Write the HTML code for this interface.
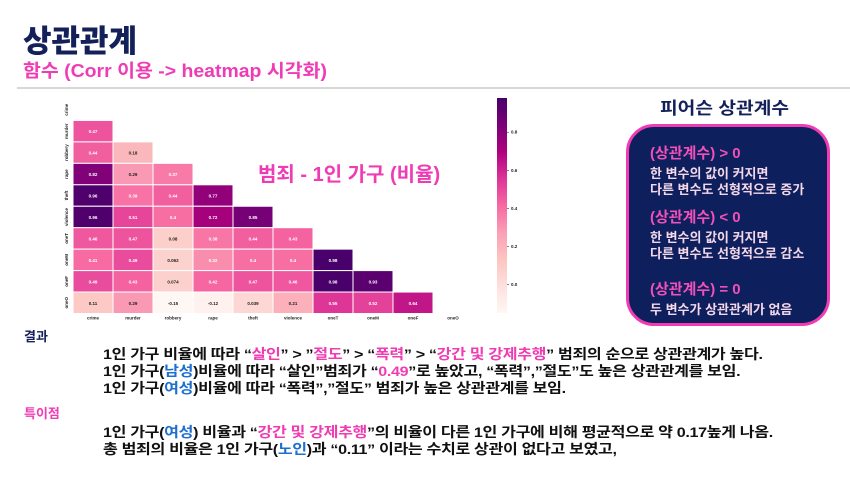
<!DOCTYPE html>
<html><head><meta charset="utf-8">
<style>
body{margin:0;width:850px;height:478px;background:#fff;overflow:hidden;position:relative;font-family:"Liberation Sans","Noto Sans CJK KR",sans-serif;}
.a{position:absolute;white-space:nowrap;}
.pk{color:#f03cb4}.bl{color:#1e6fd0}
.body{font-size:14px;font-weight:bold;color:#111;letter-spacing:-0.3px;transform:scaleX(1.15);transform-origin:0 0}
.box div{color:#f4d7e8;font-size:13px;font-weight:bold;line-height:16px}
.box .h{color:#f050b8;font-size:15px;margin-bottom:4px}
</style></head><body>
<div class="a" style="left:23px;top:16px;font-size:31px;font-weight:900;color:#14205a">상관관계</div>
<div class="a pk" style="left:23px;top:57px;font-size:18px;font-weight:bold;transform:scaleX(1.08);transform-origin:0 0">함수 (Corr 이용 -&gt; heatmap 시각화)</div>
<div class="a" style="left:17px;top:87px;width:833px;height:2px;background:#d8d8d8"></div>

<svg class="a" style="left:0;top:90px" width="620" height="240" id="hm"></svg>
<div class="a pk" style="left:258px;top:158px;font-size:20px;font-weight:bold">범죄 - 1인 가구 (비율)</div>

<div class="a" style="left:660px;top:94px;font-size:17px;font-weight:bold;color:#14205a;transform:scaleX(1.13);transform-origin:0 0">피어슨 상관계수</div>
<div class="a box" style="left:626px;top:124px;width:198px;height:196px;background:#0d1f5c;border:3px solid #f03cb4;border-radius:28px;padding:0">
 <div style="position:absolute;left:21px;top:19px">
  <div class="h">(상관계수) &gt; 0</div>
  <div>한 변수의 값이 커지면<br>다른 변수도 선형적으로 증가</div>
  <div class="h" style="margin-top:12px">(상관계수) &lt; 0</div>
  <div>한 변수의 값이 커지면<br>다른 변수도 선형적으로 감소</div>
  <div class="h" style="margin-top:20px">(상관계수) = 0</div>
  <div>두 변수가 상관관계가 없음</div>
 </div>
</div>

<div class="a" style="left:24px;top:326px;font-size:13px;font-weight:bold;color:#14205a">결과</div>
<div class="a body" style="left:103px;top:344px">1인 가구 비율에 따라 “<span class="pk">살인</span>” &gt; ”<span class="pk">절도</span>” &gt; “<span class="pk">폭력</span>” &gt; “<span class="pk">강간 및 강제추행</span>” 범죄의 순으로 상관관계가 높다.</div>
<div class="a body" style="left:103px;top:361px">1인 가구(<span class="bl">남성</span>)비율에 따라 “살인”범죄가 “<span class="pk">0.49</span>”로 높았고, “폭력”,”절도”도 높은 상관관계를 보임.</div>
<div class="a body" style="left:103px;top:378px">1인 가구(<span class="bl">여성</span>)비율에 따라 “폭력”,”절도” 범죄가 높은 상관관계를 보임.</div>
<div class="a pk" style="left:24px;top:403px;font-size:13px;font-weight:bold">특이점</div>
<div class="a body" style="left:103px;top:422px">1인 가구(<span class="bl">여성</span>) 비율과 “<span class="pk">강간 및 강제추행</span>”의 비율이 다른 1인 가구에 비해 평균적으로 약 0.17높게 나옴.</div>
<div class="a body" style="left:103px;top:439px">총 범죄의 비율은 1인 가구(<span class="bl">노인</span>)과 “0.11” 이라는 수치로 상관이 없다고 보였고,</div>

<script>
const labels=["crime","murder","robbery","rape","theft","violence","oneT","oneM","oneF","oneO"];
const corrRows=[
[],
[0.47],
[0.44,0.18],
[0.82,0.29,0.37],
[0.96,0.39,0.44,0.77],
[0.96,0.51,0.4,0.72,0.85],
[0.46,0.47,0.08,0.38,0.44,0.43],
[0.41,0.49,0.062,0.32,0.4,0.4,0.98],
[0.49,0.43,0.074,0.42,0.47,0.46,0.98,0.93],
[0.11,0.29,-0.15,-0.12,0.039,0.21,0.55,0.52,0.64]
];
const cbTicks=[0.0,0.2,0.4,0.6,0.8];
const vmin=-0.15,vmax=0.98;
const stops=["#fff7f3","#fde0dd","#fcc5c0","#fa9fb5","#f768a1","#dd3497","#ae017e","#7a0177","#49006a"];
function hx(c){return [1,3,5].map(i=>parseInt(c.substr(i,2),16));}
function cmap(v){let t=Math.max(0,Math.min(1,(v-vmin)/(vmax-vmin)))*(stops.length-1);let i=Math.min(Math.floor(t),stops.length-2),f=t-i;const a=hx(stops[i]),b=hx(stops[i+1]);return "rgb("+a.map((x,k)=>Math.round(x+(b[k]-x)*f)).join(",")+")";}
const NS="http://www.w3.org/2000/svg",svg=document.getElementById("hm");
const x0=73,y0=9,cw=40,ch=21.45;
const xs=j=>x0+j*cw, ys=i=>y0+i*ch;
function mk(t,at){const e=document.createElementNS(NS,t);for(const k in at)e.setAttribute(k,at[k]);svg.appendChild(e);return e;}
corrRows.forEach((row,i)=>row.forEach((v,j)=>{
 const r=mk("rect",{x:xs(j),y:ys(i),width:cw,height:ch,fill:cmap(v),stroke:"#fff","stroke-width":1});
 
 
 const t=mk("text",{x:xs(j)+cw/2,y:ys(i)+ch/2+2,"font-size":4.5,"font-weight":"bold","text-anchor":"middle",fill:(v-vmin)/(vmax-vmin)>0.41?"#fff":"#222"});
 t.textContent=v;
 
 
}));
labels.forEach((l,i)=>{
 const t=mk("text",{x:xs(i)+cw/2,y:y0+10*ch+6,"font-size":4.5,"font-weight":"bold","text-anchor":"middle",fill:"#222"});
 t.textContent=l;
 
 
 const yy=ys(i)+ch/2;
 const u=mk("text",{x:68,y:yy,"font-size":4.5,"font-weight":"bold","text-anchor":"middle",fill:"#222",transform:"rotate(-90 68 "+yy+")"});
 u.textContent=l;
 
 
});
const cbX=497,cbW=10,cbTop=8,cbBot=223;
const cy=v=>cbBot-(v-vmin)/(vmax-vmin)*(cbBot-cbTop);
const defs=mk("defs",{});
const g=document.createElementNS(NS,"linearGradient");g.setAttribute("id","cbg");g.setAttribute("x1",0);g.setAttribute("y1",1);g.setAttribute("x2",0);g.setAttribute("y2",0);defs.appendChild(g);
stops.forEach((c,k)=>{const s=document.createElementNS(NS,"stop");s.setAttribute("offset",k/(stops.length-1));s.setAttribute("stop-color",c);g.appendChild(s);});
const cb=mk("rect",{x:cbX,y:cbTop,width:cbW,height:cbBot-cbTop,fill:"url(#cbg)"});


cbTicks.forEach(v=>{
 mk("line",{x1:cbX+cbW,x2:cbX+cbW+2,y1:cy(v),y2:cy(v),stroke:"#333","stroke-width":0.6});
 const t=mk("text",{x:cbX+cbW+4,y:cy(v)+1.5,"font-size":4.5,"font-weight":"bold",fill:"#222"});
 t.textContent=v.toFixed(1);
 
 
});
</script>
</body></html>
